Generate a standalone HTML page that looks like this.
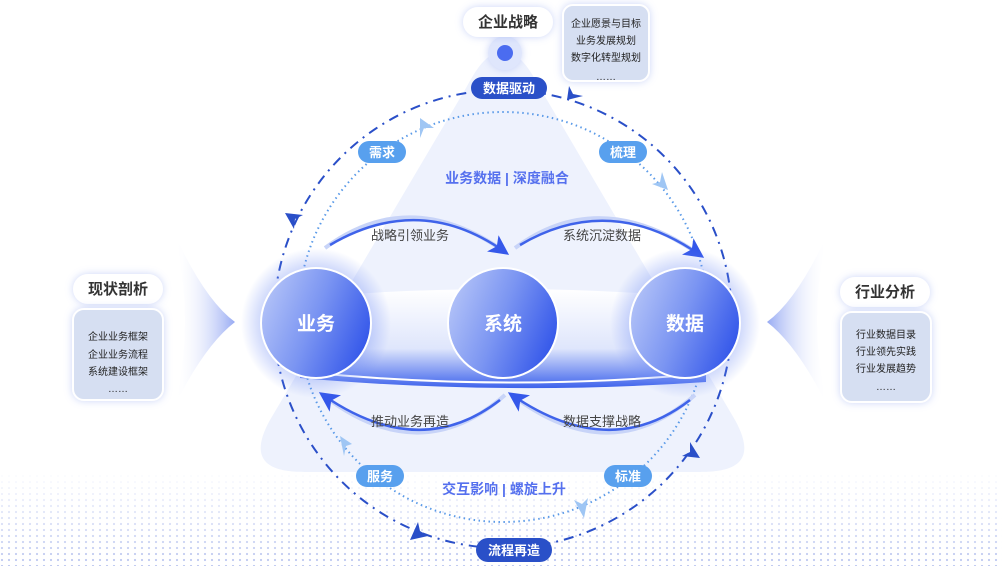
<!DOCTYPE html>
<html><head><meta charset="utf-8"><style>
html,body{margin:0;padding:0;background:#fff;}
body{width:1002px;height:566px;overflow:hidden;position:relative;font-family:"Liberation Sans","Noto Sans CJK SC",sans-serif;}
svg{position:absolute;left:0;top:0}
</style></head><body>
<svg width="1002" height="566" viewBox="0 0 1002 566" xmlns="http://www.w3.org/2000/svg" font-family="Liberation Sans, Noto Sans CJK SC, sans-serif">
<defs>
<pattern id="dots" width="7" height="6" patternUnits="userSpaceOnUse"><circle cx="2" cy="2" r="1.1" fill="#aab8ec"/></pattern>
<linearGradient id="dotfade" x1="0" y1="0" x2="0" y2="1"><stop offset="0" stop-color="#fff" stop-opacity="0"/><stop offset="1" stop-color="#fff" stop-opacity="1"/></linearGradient>
<mask id="dm"><rect x="0" y="470" width="1002" height="96" fill="url(#dotfade)"/></mask>
<linearGradient id="ball" x1="0" y1="0.2" x2="1" y2="0.6"><stop offset="0" stop-color="#b7c6f8"/><stop offset="0.5" stop-color="#7b95f2"/><stop offset="1" stop-color="#3558ea"/></linearGradient>
<radialGradient id="glow"><stop offset="0.6" stop-color="#6f8cf5" stop-opacity="0.5"/><stop offset="1" stop-color="#6f8cf5" stop-opacity="0"/></radialGradient>
<linearGradient id="band" x1="0" y1="0" x2="0" y2="1"><stop offset="0" stop-color="#fff"/><stop offset="0.6" stop-color="#dfe6fc"/><stop offset="1" stop-color="#3e63ec"/></linearGradient>
<linearGradient id="chevL" x1="0" y1="0" x2="1" y2="0"><stop offset="0" stop-color="#fff" stop-opacity="0"/><stop offset="1" stop-color="#7d95f0" stop-opacity="0.8"/></linearGradient>
<linearGradient id="chevR" x1="1" y1="0" x2="0" y2="0"><stop offset="0" stop-color="#fff" stop-opacity="0"/><stop offset="1" stop-color="#7d95f0" stop-opacity="0.8"/></linearGradient>
<filter id="sh" x="-30%" y="-50%" width="160%" height="200%"><feDropShadow dx="0" dy="0" stdDeviation="4" flood-color="#8ea3f0" flood-opacity="0.45"/></filter>
<marker id="ah" markerWidth="8" markerHeight="8" refX="6" refY="4" orient="auto"><path d="M0,0 L8,4 L0,8 L2,4z" fill="#3558ea"/></marker>
</defs>
<rect x="0" y="470" width="1002" height="96" fill="url(#dots)" mask="url(#dm)" opacity="0.8"/>
<path d="M503,52 C520,52 530,70 540,88 L735,420 C760,465 730,472 700,472 L305,472 C275,472 245,465 270,420 L466,88 C476,70 486,52 503,52z" fill="#eef2fd"/>
<path d="M175,235 Q205,300 235,322 Q205,345 175,405 Q195,322 175,235z" fill="url(#chevL)"/>
<path d="M827,235 Q797,300 767,322 Q797,345 827,405 Q807,322 827,235z" fill="url(#chevR)"/>
<circle cx="503" cy="319" r="229" fill="none" stroke="#2a4fc8" stroke-width="2" stroke-dasharray="10 6 2 6"/>
<circle cx="503" cy="317" r="205" fill="none" stroke="#5a9ae8" stroke-width="2" stroke-dasharray="1.5 3.5"/>
<path d="M285,213 l18,2 -8,4 -1,10z" fill="#2a4fc8"/>
<path d="M567,100 l2,-14 4,8 10,2z" fill="#2a4fc8"/>
<path d="M700,458 l-18,-2 8,-4 0,-10z" fill="#2a4fc8"/>
<path d="M410,540 l8,-18 2,9 8,5z" fill="#2a4fc8"/>
<path d="M420,118 l14,10 -10,0 -4,10z" fill="#9fc6f4"/>
<path d="M668,190 l-16,-6 8,-2 2,-10z" fill="#9fc6f4"/>
<path d="M340,436 l12,8 -6,2 -2,10z" fill="#9fc6f4"/>
<path d="M584,518 l-10,-18 8,4 6,-6z" fill="#9fc6f4"/>
<path d="M325,248 Q410,185 505,252" fill="none" stroke="#c8d4f8" stroke-width="4"/>
<path d="M330,245 Q420,192 505,252" fill="none" stroke="#3f63ea" stroke-width="2.5" marker-end="url(#ah)"/>
<path d="M515,248 Q600,185 700,255" fill="none" stroke="#c8d4f8" stroke-width="4"/>
<path d="M520,245 Q610,192 700,255" fill="none" stroke="#3f63ea" stroke-width="2.5" marker-end="url(#ah)"/>
<path d="M505,395 Q420,470 323,395" fill="none" stroke="#c8d4f8" stroke-width="4"/>
<path d="M500,400 Q420,462 323,395" fill="none" stroke="#3f63ea" stroke-width="2.5" marker-end="url(#ah)"/>
<path d="M695,395 Q610,470 512,395" fill="none" stroke="#c8d4f8" stroke-width="4"/>
<path d="M690,400 Q610,462 512,395" fill="none" stroke="#3f63ea" stroke-width="2.5" marker-end="url(#ah)"/>
<path d="M300,298 Q503,280 706,298 L706,382 Q503,396 300,378z" fill="url(#band)"/>
<path d="M305,372 Q503,392 700,374" fill="none" stroke="#fff" stroke-width="2"/>
<circle cx="316" cy="323" r="75" fill="url(#glow)"/>
<circle cx="685" cy="323" r="75" fill="url(#glow)"/>
<circle cx="316" cy="323" r="55" fill="url(#ball)" stroke="#fff" stroke-width="2"/>
<circle cx="503" cy="323" r="55" fill="url(#ball)" stroke="#fff" stroke-width="2"/>
<circle cx="685" cy="323" r="55" fill="url(#ball)" stroke="#fff" stroke-width="2"/>
<g font-size="19" font-weight="bold" fill="#fff" text-anchor="middle">
<text x="316" y="330">业务</text><text x="503" y="330">系统</text><text x="685" y="330">数据</text></g>
<g font-size="13" fill="#444" text-anchor="middle">
<text x="410" y="240">战略引领业务</text><text x="602" y="240">系统沉淀数据</text>
<text x="410" y="426">推动业务再造</text><text x="602" y="426">数据支撑战略</text></g>
<g font-size="14" font-weight="bold" fill="#5570ee" text-anchor="middle">
<text x="507" y="183">业务数据 | 深度融合</text><text x="504" y="494">交互影响 | 螺旋上升</text></g>
<circle cx="505" cy="53" r="17" fill="#dfe6fc" filter="url(#sh)"/>
<circle cx="505" cy="53" r="8" fill="#4b6cf0"/>
<rect x="463" y="7" width="90" height="30" rx="15" fill="#fff" filter="url(#sh)"/>
<text x="508" y="27" font-size="15" font-weight="bold" fill="#333" text-anchor="middle">企业战略</text>
<rect x="563" y="5" width="86" height="76" rx="10" fill="#d6dff2" stroke="#fff" stroke-width="2" filter="url(#sh)"/>
<g font-size="10" fill="#222" text-anchor="middle"><text x="606" y="27">企业愿景与目标</text><text x="606" y="44">业务发展规划</text><text x="606" y="61">数字化转型规划</text><text x="606" y="80">……</text></g>
<rect x="471" y="77" width="76" height="22" rx="11" fill="#2a50c8"/><text x="509" y="93" font-size="13" font-weight="bold" fill="#fff" text-anchor="middle">数据驱动</text>
<rect x="476" y="538" width="76" height="24" rx="12" fill="#2a50c8"/><text x="514" y="555" font-size="13" font-weight="bold" fill="#fff" text-anchor="middle">流程再造</text>
<g fill="#58a0ee"><rect x="358" y="141" width="48" height="22" rx="11"/><rect x="599" y="141" width="48" height="22" rx="11"/><rect x="356" y="465" width="48" height="22" rx="11"/><rect x="604" y="465" width="48" height="22" rx="11"/></g>
<g font-size="13" font-weight="bold" fill="#fff" text-anchor="middle"><text x="382" y="157">需求</text><text x="623" y="157">梳理</text><text x="380" y="481">服务</text><text x="628" y="481">标准</text></g>
<rect x="73" y="274" width="90" height="30" rx="15" fill="#fff" filter="url(#sh)"/>
<text x="118" y="294" font-size="15" font-weight="bold" fill="#333" text-anchor="middle">现状剖析</text>
<rect x="73" y="309" width="90" height="91" rx="11" fill="#d6dff2" stroke="#fff" stroke-width="2" filter="url(#sh)"/>
<g font-size="10" fill="#222" text-anchor="middle"><text x="118" y="340">企业业务框架</text><text x="118" y="358">企业业务流程</text><text x="118" y="375">系统建设框架</text><text x="118" y="392">……</text></g>
<rect x="840" y="277" width="90" height="30" rx="15" fill="#fff" filter="url(#sh)"/>
<text x="885" y="297" font-size="15" font-weight="bold" fill="#333" text-anchor="middle">行业分析</text>
<rect x="841" y="312" width="90" height="90" rx="11" fill="#d6dff2" stroke="#fff" stroke-width="2" filter="url(#sh)"/>
<g font-size="10" fill="#222" text-anchor="middle"><text x="886" y="338">行业数据目录</text><text x="886" y="355">行业领先实践</text><text x="886" y="372">行业发展趋势</text><text x="886" y="390">……</text></g>
</svg>
</body></html>
